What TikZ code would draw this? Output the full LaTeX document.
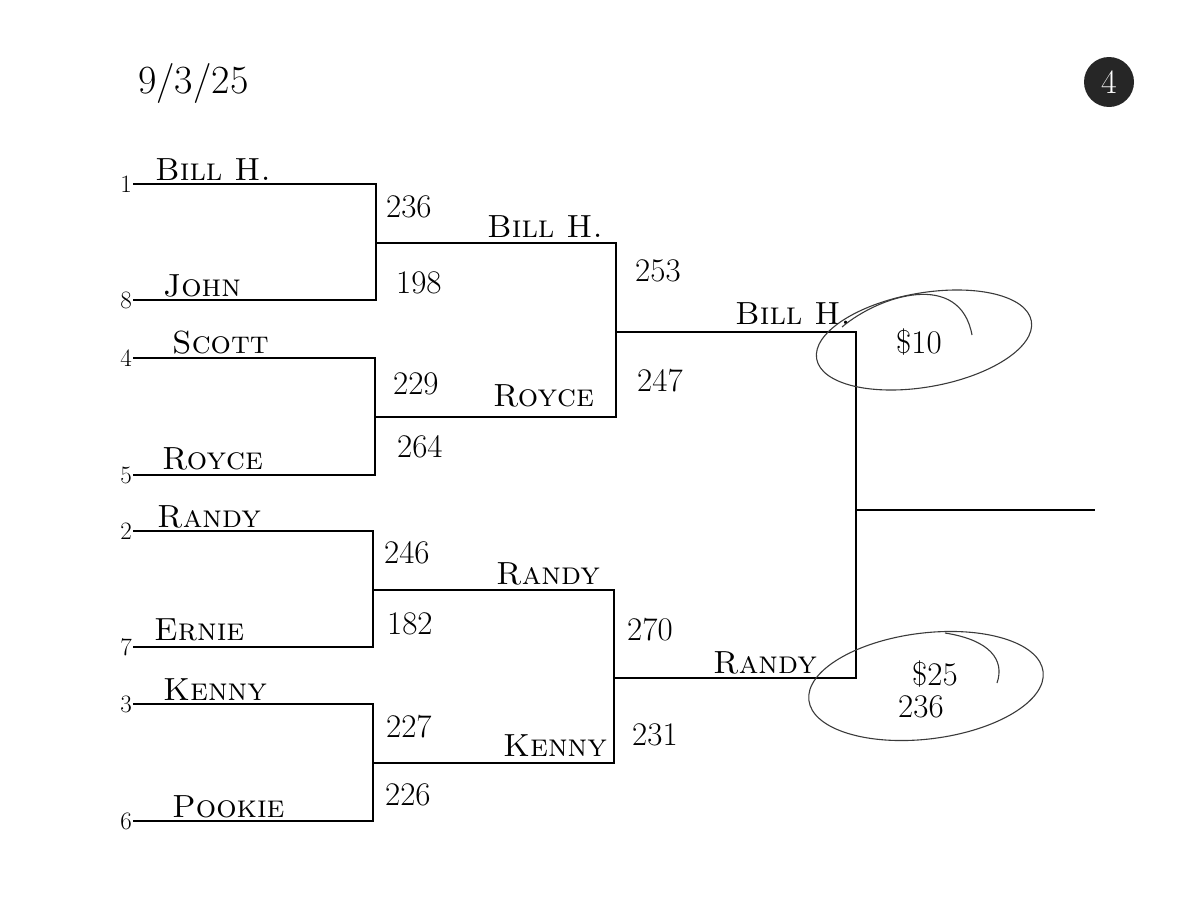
\documentclass[tikz,border=0pt]{standalone}
\usepackage{fontspec}
\usepackage{tikz}
\usetikzlibrary{positioning}
\definecolor{inkgray}{HTML}{3A3A3A}
\definecolor{badge}{HTML}{262626}

\begin{document}
\begin{tikzpicture}[x=1pt, y=-1pt,
    bracket/.style={line width=2pt, black},
    player/.style={anchor=base west, inner sep=0pt, font=\fontsize{32}{34}\selectfont\scshape},
    score/.style={anchor=base west, inner sep=0pt, font=\fontsize{33}{35}\selectfont},
    seednum/.style={anchor=east, inner sep=1pt, font=\fontsize{25}{27}\selectfont},
    prize/.style={inkgray, line width=1.1pt}]
    \useasboundingbox (0,0) rectangle (1200,918);
    % date and page badge
    \node[anchor=base west, inner sep=0pt, font=\fontsize{40}{44}\selectfont] (date) at (138,93) {9/3/25};
    \node[circle, fill=badge, minimum size=50pt, inner sep=0pt, text=white,
          font=\fontsize{34}{36}\selectfont] (page) at (1109,82) {4};
    % seed line starts
    \coordinate (s1) at (133,184);
    \coordinate (s8) at (133,300);
    \coordinate (s4) at (133,358);
    \coordinate (s5) at (133,475);
    \coordinate (s2) at (133,531);
    \coordinate (s7) at (133,647);
    \coordinate (s3) at (133,704);
    \coordinate (s6) at (133,821);
    % joints
    \coordinate (j18) at (376,243);
    \coordinate (j45) at (375,417);
    \coordinate (j27) at (373,590);
    \coordinate (j36) at (373,763);
    \coordinate (jA) at (616,332);
    \coordinate (jB) at (614,678);
    \coordinate (jF) at (856,510);
    \coordinate (champ) at (1095,510);
    % bracket
    \draw[bracket] (s1) -| (j18) |- (s8);
    \draw[bracket] (s4) -| (j45) |- (s5);
    \draw[bracket] (s2) -| (j27) |- (s7);
    \draw[bracket] (s3) -| (j36) |- (s6);
    \draw[bracket] (j18) -| (jA) |- (j45);
    \draw[bracket] (j27) -| (jB) |- (j36);
    \draw[bracket] (jA) -| (jF) |- (jB);
    \draw[bracket] (jF) -- (champ);
    % seeds
    \node[seednum] (n1) at (s1) {1};
    \node[seednum] (n8) at (s8) {8};
    \node[seednum] (n4) at (s4) {4};
    \node[seednum] (n5) at (s5) {5};
    \node[seednum] (n2) at (s2) {2};
    \node[seednum] (n7) at (s7) {7};
    \node[seednum] (n3) at (s3) {3};
    \node[seednum] (n6) at (s6) {6};
    % first round
    \node[player] (bill) at (155,180) {Bill H.};
    \node[player] (john) at (163,296) {John};
    \node[player] (scott) at (172,353) {Scott};
    \node[player] (royce) at (162,469) {Royce};
    \node[player] (randy) at (157,527) {Randy};
    \node[player] (ernie) at (154,640) {Ernie};
    \node[player] (kenny) at (163,700) {Kenny};
    \node[player] (pookie) at (172,817) {Pookie};
    \node[score] (sc-bill) at (386,217) {236};
    \node[score] (sc-john) at (396,293) {198};
    \node[score] (sc-scott) at (393,394) {229};
    \node[score] (sc-royce) at (397,457) {264};
    \node[score] (sc-randy) at (384,563) {246};
    \node[score] (sc-ernie) at (387,634) {182};
    \node[score] (sc-kenny) at (386,737) {227};
    \node[score] (sc-pookie) at (385,805) {226};
    % second round
    \node[player] (bill2) at (487,237) {Bill H.};
    \node[player] (royce2) at (493,406) {Royce};
    \node[player] (randy2) at (496,584) {Randy};
    \node[player] (kenny2) at (503,756) {Kenny};
    \node[score] (sc-bill2) at (635,281) {253};
    \node[score] (sc-royce2) at (637,391) {247};
    \node[score] (sc-randy2) at (627,640) {270};
    \node[score] (sc-kenny2) at (632,745) {231};
    % final
    \node[player] (bill3) at (735,324) {Bill H.};
    \node[player] (randy3) at (713,673) {Randy};
    % prize money
    \draw[prize, rotate around={10:(924,340)}] (924,340) ellipse [x radius=109, y radius=47];
    \draw[prize] (842,327) .. controls (880,295) and (960,270) .. (972,335);
    \node[score] (ten) at (896,353) {\$10};
    \draw[prize, rotate around={7:(926,686)}] (926,686) ellipse [x radius=118, y radius=53];
    \draw[prize] (945,633) .. controls (990,640) and (1005,660) .. (997,683);
    \node[score] (twentyfive) at (912,685) {\$25};
    \node[score] (bonus) at (898,717) {236};
\end{tikzpicture}
\end{document}
